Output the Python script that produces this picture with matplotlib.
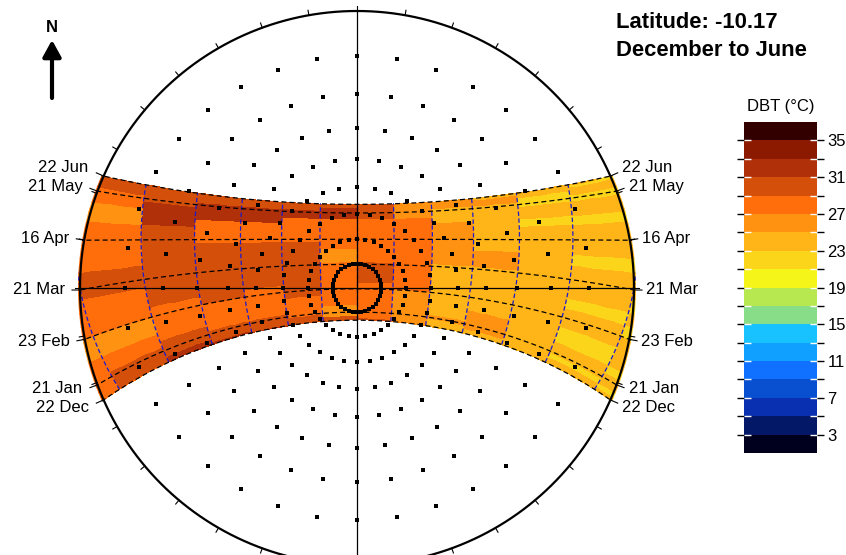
import numpy as np
import matplotlib
matplotlib.use("Agg")
import matplotlib.pyplot as plt
from matplotlib.colors import ListedColormap, BoundaryNorm
from matplotlib.patches import Circle
import matplotlib.cm as cm

plt.rcParams['font.family'] = ['Liberation Sans', 'DejaVu Sans']

# ---------------------------------------------------------------- data
LATITUDE = -10.17
title_lines = ["Latitude: -10.17", "December to June"]

# labelled sun paths (day of year)
path_labels = ["22 Dec", "21 Jan", "23 Feb", "21 Mar", "16 Apr", "21 May", "22 Jun"]
path_doy = [356, 21, 54, 80, 106, 141, 173]

# hour lines (solar time)
hour_lines = [6, 7, 8, 9, 10, 11, 12, 13, 14, 15, 16, 17, 18]

# weekly rows starting on 22 Dec (day offsets), hour cells start 05:00 .. 18:00
week_offsets = [0, 7, 14, 21, 28, 35, 42, 49, 56, 63, 70, 77, 84, 91, 98, 105,
                112, 119, 126, 133, 140, 147, 154, 161, 168, 175, 182]
cell_hours = [5, 6, 7, 8, 9, 10, 11, 12, 13, 14, 15, 16, 17, 18, 19]

# dry-bulb temperature (deg C): one row per week (22 Dec first), one column per hour
dbt = [
    [24, 24, 24, 24, 24, 26, 30, 30, 30, 32, 32, 32, 28, 28],
    [24, 24, 24, 24, 24, 26, 30, 30, 30, 30, 32, 32, 30, 28],
    [22, 24, 24, 24, 24, 26, 28, 30, 30, 30, 30, 32, 30, 28],
    [24, 22, 24, 26, 24, 26, 28, 26, 30, 30, 30, 30, 30, 28],
    [24, 24, 24, 26, 26, 26, 28, 26, 28, 30, 30, 30, 30, 28],
    [22, 24, 24, 26, 24, 26, 28, 26, 28, 28, 28, 30, 28, 28],
    [24, 22, 24, 26, 24, 26, 28, 28, 28, 28, 28, 28, 28, 28],
    [24, 22, 24, 24, 24, 26, 28, 28, 28, 28, 28, 28, 26, 26],
    [24, 24, 24, 24, 24, 26, 28, 28, 30, 28, 28, 28, 26, 26],
    [22, 24, 24, 24, 24, 28, 28, 28, 30, 28, 30, 28, 28, 28],
    [24, 22, 24, 24, 24, 28, 30, 28, 30, 30, 30, 30, 28, 28],
    [22, 24, 24, 24, 24, 28, 30, 28, 30, 30, 30, 30, 28, 28],
    [24, 24, 24, 24, 24, 28, 30, 28, 30, 30, 30, 30, 30, 28],
    [24, 24, 24, 26, 26, 28, 28, 26, 30, 30, 30, 30, 30, 28],
    [24, 22, 24, 26, 26, 28, 28, 26, 30, 30, 30, 30, 28, 28],
    [24, 24, 24, 24, 26, 28, 28, 28, 30, 30, 30, 30, 28, 28],
    [24, 24, 24, 24, 26, 28, 28, 28, 28, 28, 28, 30, 28, 28],
    [24, 24, 24, 24, 26, 28, 28, 28, 28, 28, 28, 30, 28, 28],
    [24, 22, 22, 24, 26, 28, 28, 28, 28, 28, 28, 32, 26, 28],
    [24, 24, 24, 24, 24, 28, 28, 28, 28, 32, 32, 32, 26, 28],
    [24, 24, 24, 24, 24, 26, 30, 32, 32, 32, 32, 32, 28, 28],
    [24, 22, 22, 24, 24, 26, 30, 32, 32, 32, 32, 30, 28, 28],
    [24, 24, 22, 26, 26, 26, 30, 32, 30, 30, 30, 30, 30, 28],
    [24, 24, 24, 26, 26, 26, 30, 30, 30, 30, 30, 30, 30, 28],
    [24, 22, 24, 24, 26, 26, 30, 30, 30, 30, 30, 30, 30, 28],
    [24, 24, 24, 24, 26, 26, 30, 30, 30, 30, 30, 30, 30, 28],
]

# colour scale
dbt_levels = [1, 3, 5, 7, 9, 11, 13, 15, 17, 19, 21, 23, 25, 27, 29, 31, 33, 35, 37]
dbt_colors = ["#00001e", "#041868", "#0830b0", "#0850d0", "#1070ff", "#10a0ff",
              "#18c2ff", "#88dd88", "#b8e850", "#f5f51a", "#fbd51a", "#ffb518",
              "#ff9210", "#ff6e0a", "#d4500a", "#b0300a", "#8b1a00", "#330000"]
dbt_tick_labels = [3, 7, 11, 15, 19, 23, 27, 31, 35]


# ---------------------------------------------------------------- geometry
def declination(doy):
    return np.radians(23.44 * np.sin(np.radians(360.0 / 365.0 * (284 + np.asarray(doy, float)))))


def sun_xy(dec, hour):
    """Stereographic (nadir) projection of the sun, north up, east right."""
    lat = np.radians(LATITUDE)
    w = np.radians(15.0 * (np.asarray(hour, float) - 12.0))
    east = -np.cos(dec) * np.sin(w)
    north = np.cos(lat) * np.sin(dec) - np.sin(lat) * np.cos(dec) * np.cos(w)
    up = np.sin(lat) * np.sin(dec) + np.cos(lat) * np.cos(dec) * np.cos(w)
    return east / (1 + up), north / (1 + up)


def altaz_xy(alt, az):
    r = np.tan(np.radians(90 - np.asarray(alt, float)) / 2)
    a = np.radians(np.asarray(az, float))
    return r * np.sin(a), r * np.cos(a)


def offset_doy(d):
    return (356 + np.asarray(d, float) - 1) % 365 + 1


W, H = 846, 555
CX, CY, R = 357.0, 288.0, 277.0

fig = plt.figure(figsize=(W / 100, H / 100), dpi=100)
ax = fig.add_axes([0, 0, 1, 1])
ax.set_xlim(-CX / R, (W - CX) / R)
ax.set_ylim((CY - H) / R, CY / R)
ax.axis("off")

PX = 1.0 / R  # one pixel in data units

cmap = ListedColormap(dbt_colors)
norm = BoundaryNorm(dbt_levels, cmap.N)

clip = Circle((0, 0), 1.0 + 2 * PX, transform=ax.transData)

# ---- temperature band
sub = 6
dec_rows = declination(offset_doy(week_offsets))
hours_fine = np.linspace(cell_hours[0], cell_hours[-1], (len(cell_hours) - 1) * sub + 1)
DD, HH = np.meshgrid(dec_rows, hours_fine, indexing="ij")
MX, MY = sun_xy(DD, HH)
C = np.repeat(np.array(dbt, float), sub, axis=1)
mesh = ax.pcolormesh(MX, MY, C, cmap=cmap, norm=norm, shading="flat",
                     antialiased=False, edgecolors="none", zorder=1)
mesh.set_clip_path(clip)

# ---- hour lines
days = np.arange(0, 183)
dec_days = declination(offset_doy(days))
for h in hour_lines:
    hx, hy = sun_xy(dec_days, np.full_like(dec_days, h))
    ln, = ax.plot(hx, hy, color="#1a1ad0", lw=0.9, ls=(0, (3.5, 2)), zorder=3)
    ln.set_clip_path(clip)

# ---- date paths
hh = np.linspace(0, 24, 1441)
for doy in path_doy:
    px_, py_ = sun_xy(np.full_like(hh, declination(doy)), hh)
    ln, = ax.plot(px_, py_, color="black", lw=0.9, ls=(0, (4, 2.5)), zorder=4)
    ln.set_clip_path(clip)

# ---- altitude / azimuth dot grid
alts = np.arange(10, 90, 10)
azs = np.arange(0, 360, 10)
AA, ZZ = np.meshgrid(alts, azs)
gx, gy = altaz_xy(AA.ravel(), ZZ.ravel())
dots = ax.scatter(gx, gy, s=5.0, marker="s", color="black", linewidths=0, zorder=5)
dots.set_antialiased(False)

# ---- horizon circle, azimuth ticks, cross
t = np.linspace(0, 2 * np.pi, 721)
ax.plot(np.cos(t), np.sin(t), color="black", lw=1.6, zorder=6)
for az in range(0, 360, 10):
    a = np.radians(az)
    ax.plot([np.sin(a), (1 + 5 * PX) * np.sin(a)], [np.cos(a), (1 + 5 * PX) * np.cos(a)],
            color="black", lw=0.8, zorder=6)
ax.plot([0, 0], [-1, 1], color="black", lw=0.9, zorder=6)
ax.plot([-1, 1], [0, 0], color="black", lw=0.9, zorder=6)

# ---- path labels at both horizon ends
nudge = {"22 Jun": -9, "21 May": -5, "16 Apr": -2, "21 Mar": 0,
         "23 Feb": 2, "21 Jan": 4, "22 Dec": 8}
lat = np.radians(LATITUDE)
for lab, doy in zip(path_labels, path_doy):
    d = declination(doy)
    az = np.arccos(np.sin(d) / np.cos(lat))
    ex, ey = np.sin(az), np.cos(az)
    for side in (-1, 1):
        x0, y0 = side * ex, ey
        ax.plot([x0, x0 + side * 8 * PX * ex], [y0, y0 + 8 * PX * ey],
                color="black", lw=0.8, zorder=6)
        gap = 12 if side > 0 else 15
        ax.text(x0 + side * gap * PX, y0 - nudge[lab] * PX, lab,
                ha="left" if side > 0 else "right", va="center",
                fontsize=12, color="black", zorder=7)

# ---- north arrow
ax.annotate("", xy=((52 - CX) * PX, (CY - 40) * PX), xytext=((52 - CX) * PX, (CY - 98) * PX),
            arrowprops=dict(arrowstyle="-|>,head_length=1.0,head_width=0.55",
                            color="black", lw=3.0, shrinkA=0, shrinkB=0))
ax.text((52 - CX) * PX, (CY - 28) * PX, "N", ha="center", va="center",
        fontsize=12, fontweight="bold", color="black")

# ---- title
for i, line in enumerate(title_lines):
    fig.text(616 / W, 1 - (22 + 28 * i) / H, line, ha="left", va="center",
             fontsize=15.8, fontweight="bold", color="black")

# ---- colour bar
cax = fig.add_axes([744 / W, (H - 453) / H, 73 / W, 331 / H])
sm = cm.ScalarMappable(norm=norm, cmap=cmap)
cb = fig.colorbar(sm, cax=cax, boundaries=dbt_levels, ticks=dbt_tick_labels)
cb.outline.set_visible(False)
cax.set_yticks(dbt_levels[1:-1], minor=True)
cax.tick_params(which="both", left=True, right=True, direction="out",
                length=5, width=1, labelleft=False, labelright=True,
                labelsize=12, pad=2.5)
inner = dbt_levels[1:-1]
cax.hlines(inner, 0, 0.1, colors="white", lw=1)
cax.hlines(inner, 0.9, 1, colors="white", lw=1)
fig.text(781 / W, 1 - 107 / H, "DBT (°C)", ha="center", va="center", fontsize=12)

fig.savefig("out.png", dpi=100)
